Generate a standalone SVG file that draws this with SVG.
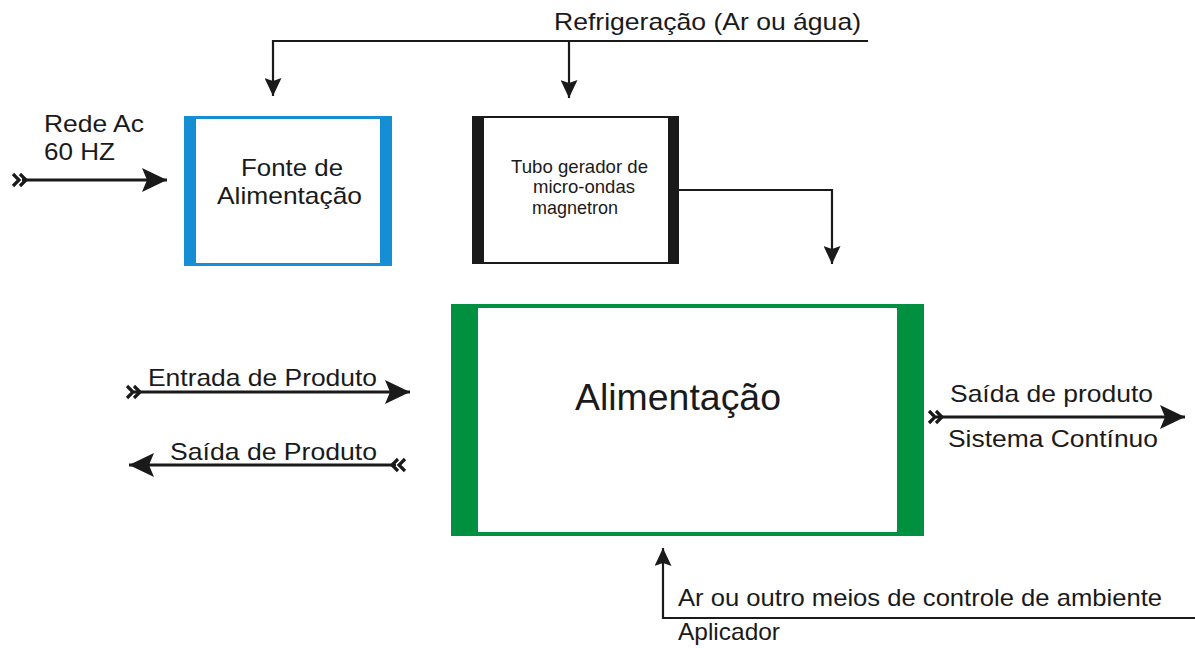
<svg xmlns="http://www.w3.org/2000/svg" width="1195" height="648" viewBox="0 0 1195 648">
<style>
  text { font-family: "Liberation Sans", Arial, sans-serif; fill: #1a1a1a; }
  .t24 { font-size: 24px; }
  .t18 { font-size: 19px; }
  .big { font-size: 37px; }
  .thin { stroke: #1a1a1a; stroke-width: 2.2; fill: none; }
  .thick { stroke: #1a1a1a; stroke-width: 3; fill: none; }
  .chev { stroke: #1a1a1a; stroke-width: 3.2; fill: none; stroke-linejoin: miter; }
</style>
<defs>
  <marker id="big" markerUnits="userSpaceOnUse" markerWidth="26" markerHeight="24" refX="25" refY="12" orient="auto">
    <path d="M0,0 L25,12 L0,24 L5,12 Z" fill="#1a1a1a"/>
  </marker>
  <marker id="small" markerUnits="userSpaceOnUse" markerWidth="18" markerHeight="17" refX="18" refY="8.5" orient="auto">
    <path d="M0,0 L18,8.5 L0,17 L3,8.5 Z" fill="#1a1a1a"/>
  </marker>
  <path id="chevR" d="M-7,-6 L-1,0 L-7,6 M0,-6 L6,0 L0,6"/>
  <path id="chevL" d="M7,-6 L1,0 L7,6 M0,-6 L-6,0 L0,6"/>
</defs>
<rect width="1195" height="648" fill="#ffffff"/>

<g id="connectors">
  <polyline class="thin" points="868,41 273,41 273,96" marker-end="url(#small)"/>
  <line class="thin" x1="569" y1="41" x2="569" y2="98" marker-end="url(#small)"/>
  <line class="thick" x1="22" y1="180" x2="167" y2="180" marker-end="url(#big)"/>
  <use href="#chevR" class="chev" x="20" y="180"/>
  <polyline class="thin" points="679,190 832,190 832,264" marker-end="url(#small)"/>
  <line class="thick" x1="134" y1="392" x2="410" y2="392" marker-end="url(#big)"/>
  <use href="#chevR" class="chev" x="134" y="392"/>
  <line class="thick" x1="396" y1="465" x2="129" y2="465" marker-end="url(#big)"/>
  <use href="#chevL" class="chev" x="398" y="465"/>
  <line class="thick" x1="936" y1="417" x2="1185" y2="417" marker-end="url(#big)"/>
  <use href="#chevR" class="chev" x="936" y="417"/>
  <polyline class="thin" points="1195,618 663,618 663,548" marker-end="url(#small)"/>
</g>

<g id="node-fonte">
  <rect x="185.5" y="117.5" width="205" height="147" fill="#ffffff" stroke="#168ed6" stroke-width="3"/>
  <rect x="184" y="116" width="12" height="150" fill="#168ed6"/>
  <rect x="380" y="116" width="12" height="150" fill="#168ed6"/>
  <text class="t24" x="241" y="176" textLength="102" lengthAdjust="spacingAndGlyphs">Fonte de</text>
  <text class="t24" x="217" y="204" textLength="145" lengthAdjust="spacingAndGlyphs">Alimentação</text>
</g>

<g id="node-magnetron">
  <rect x="473" y="117" width="205" height="146" fill="#ffffff" stroke="#1a1a1a" stroke-width="2"/>
  <rect x="472" y="116" width="12" height="148" fill="#1a1a1a"/>
  <rect x="668" y="116" width="11" height="148" fill="#1a1a1a"/>
  <text class="t18" x="511" y="173" textLength="137" lengthAdjust="spacingAndGlyphs">Tubo gerador de</text>
  <text class="t18" x="533" y="193" textLength="102" lengthAdjust="spacingAndGlyphs">micro-ondas</text>
  <text class="t18" x="532" y="214" textLength="86" lengthAdjust="spacingAndGlyphs">magnetron</text>
</g>

<g id="node-aplicador">
  <rect x="453" y="306" width="469" height="228" fill="#ffffff" stroke="#00903f" stroke-width="4"/>
  <rect x="451" y="304" width="27" height="232" fill="#00903f"/>
  <rect x="897" y="304" width="27" height="232" fill="#00903f"/>
  <text class="big" x="575" y="410" textLength="206" lengthAdjust="spacingAndGlyphs">Alimentação</text>
</g>

<g id="labels">
  <text class="t24" x="554" y="30" textLength="307" lengthAdjust="spacingAndGlyphs">Refrigeração (Ar ou água)</text>
  <text class="t24" x="44" y="132" textLength="100" lengthAdjust="spacingAndGlyphs">Rede Ac</text>
  <text class="t24" x="44" y="160" textLength="71" lengthAdjust="spacingAndGlyphs">60 HZ</text>
  <text class="t24" x="148" y="386" textLength="229" lengthAdjust="spacingAndGlyphs">Entrada de Produto</text>
  <text class="t24" x="170" y="460" textLength="207" lengthAdjust="spacingAndGlyphs">Saída de Produto</text>
  <text class="t24" x="950" y="402" textLength="203" lengthAdjust="spacingAndGlyphs">Saída de produto</text>
  <text class="t24" x="948" y="447" textLength="210" lengthAdjust="spacingAndGlyphs">Sistema Contínuo</text>
  <text class="t24" x="678" y="606" textLength="484" lengthAdjust="spacingAndGlyphs">Ar ou outro meios de controle de ambiente</text>
  <text class="t24" x="678" y="640" textLength="102" lengthAdjust="spacingAndGlyphs">Aplicador</text>
</g>
</svg>
